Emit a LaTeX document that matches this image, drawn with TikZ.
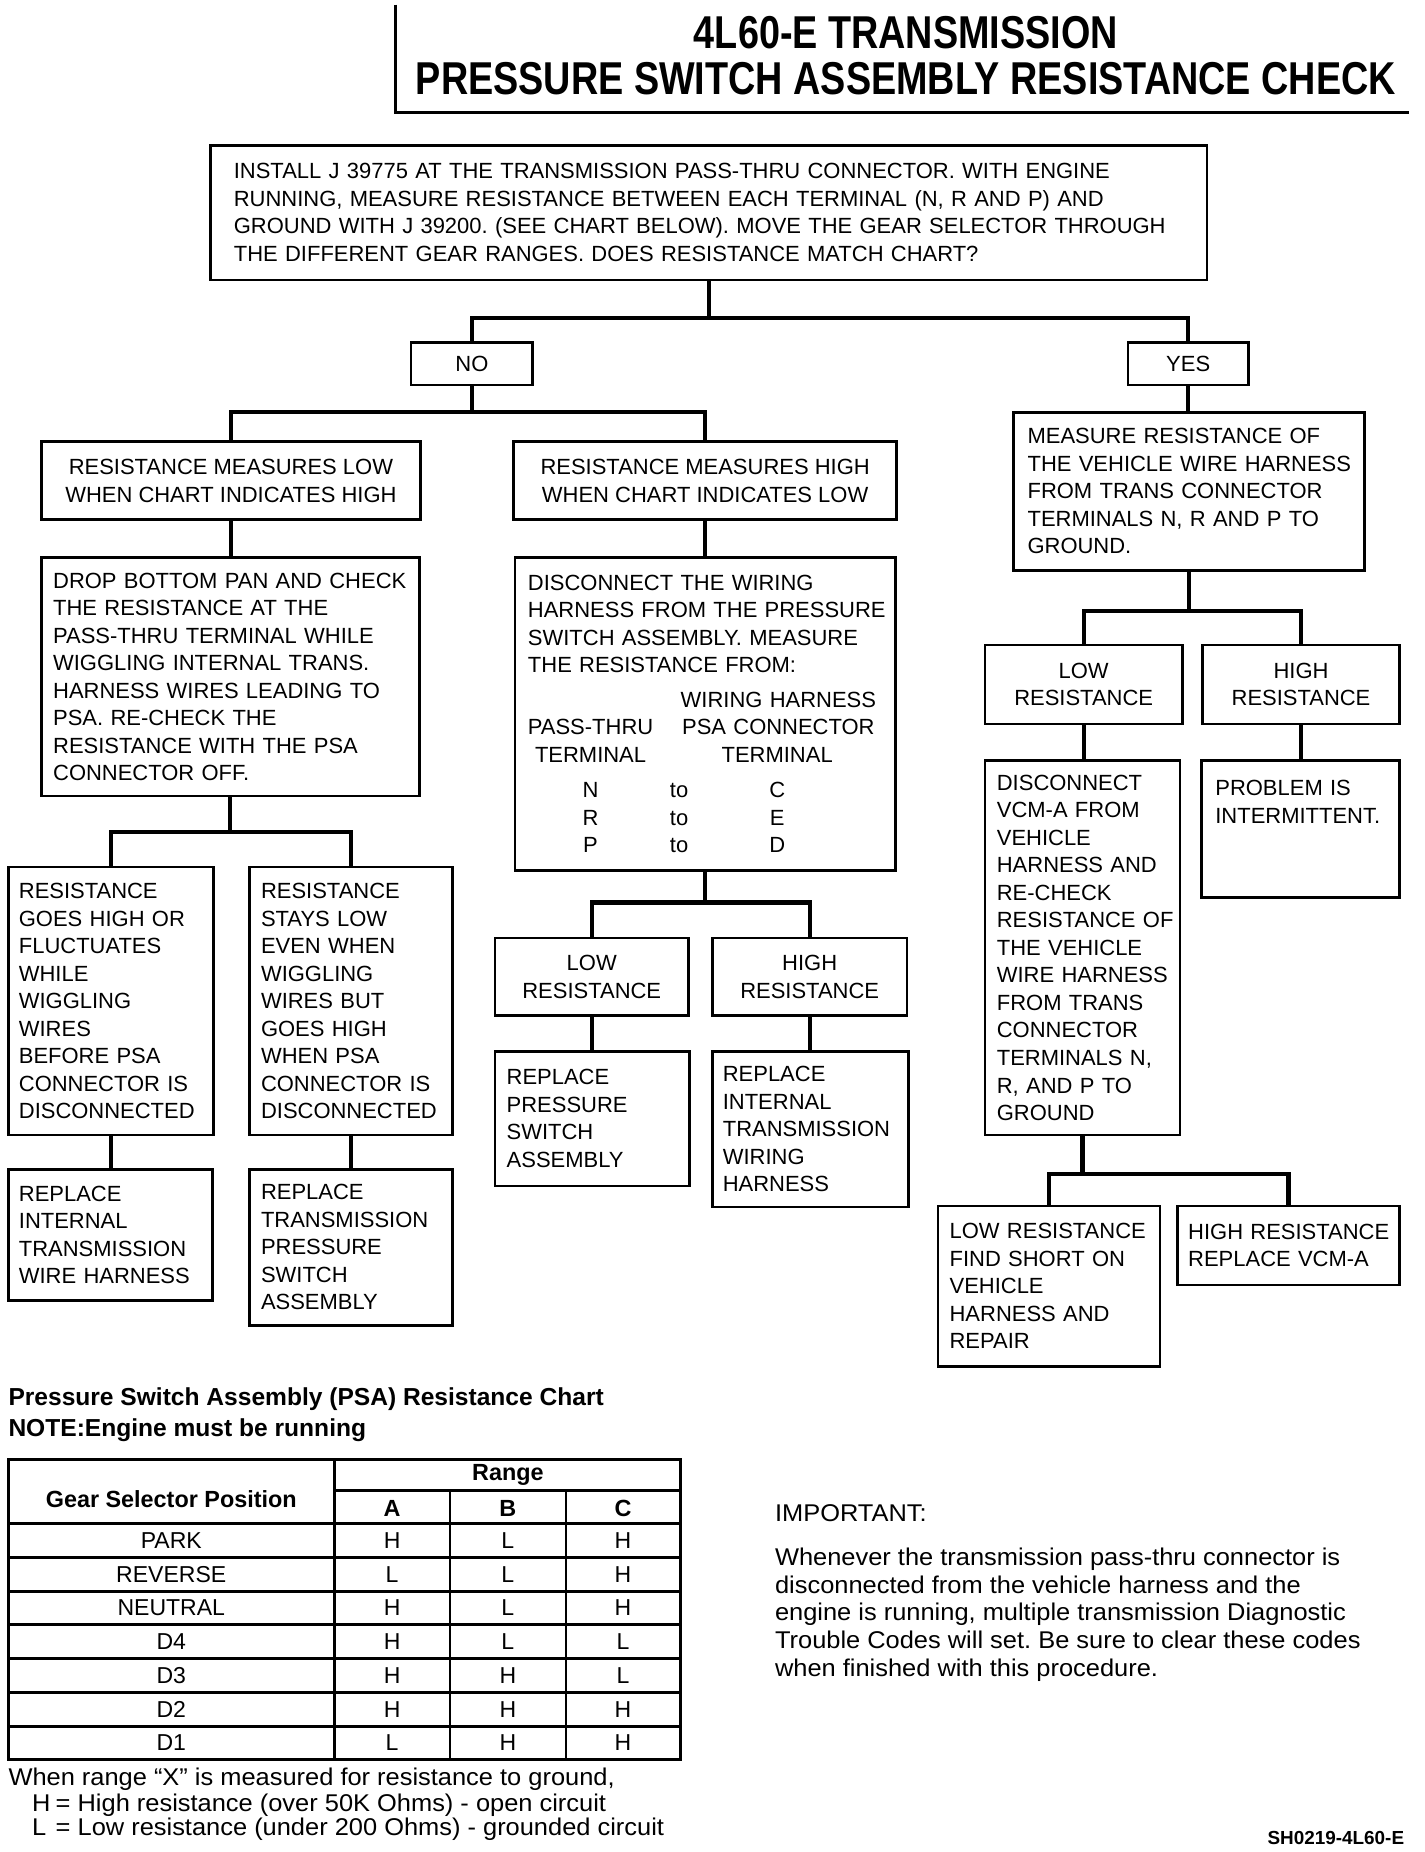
\documentclass[tikz,border=0pt]{standalone}
\usepackage{fontspec}
\setmainfont{Liberation Sans}
\newfontfamily\condfont[FakeStretch=0.82]{Liberation Sans}
\newfontfamily\widefont[FakeStretch=1.05]{Liberation Sans}
\frenchspacing

% place text centred at a given offset from the left text edge
\newcommand\colat[2]{\leavevmode\rlap{\hspace*{#1pt}\makebox[0pt]{#2}}}

\begin{document}
\begin{tikzpicture}[x=1pt,y=-1pt,font=\fontsize{18.6}{23.3}\selectfont,
  box/.style={draw,line width=2.2,inner ysep=0pt,align=left,
    execute at begin node={\rightskip=-40pt plus 1fil\relax}},
  cbox/.style={draw,line width=2.2,inner sep=0pt,align=center},
  conn/.style={line width=3.6},
  tbl/.style={line width=2.4},
  cell/.style={inner sep=0pt,font=\fontsize{19.5}{22}\selectfont},
  head/.style={inner sep=0pt,font=\bfseries\fontsize{19.8}{22}\selectfont},
  note/.style={inner sep=0pt,anchor=west,align=left,font=\widefont\fontsize{20.5}{23.5}\selectfont}]
  \path[use as bounding box,fill=white] (0,0) rectangle (1206,1568);

  % title
  \draw[line width=2.2] (335,4) |- (1193,95);
  \node[align=center,inner sep=0pt,font=\condfont\bfseries\fontsize{39}{39}\selectfont]
    (title) at (767,47) {4L60-E TRANSMISSION\\PRESSURE SWITCH ASSEMBLY RESISTANCE CHECK};

  % flow chart
  \node[box,text width=804,inner xsep=20,minimum height=114] (install) at (600,180)
    {INSTALL J 39775 AT THE TRANSMISSION PASS-THRU CONNECTOR. WITH ENGINE\\
     RUNNING, MEASURE RESISTANCE BETWEEN EACH TERMINAL (N, R AND P) AND\\
     GROUND WITH J 39200. (SEE CHART BELOW). MOVE THE GEAR SELECTOR THROUGH\\
     THE DIFFERENT GEAR RANGES. DOES RESISTANCE MATCH CHART?};
  \node[cbox,minimum width=103,minimum height=36] (no) at (399.5,308) {NO};
  \node[cbox,minimum width=102,minimum height=36] (yes) at (1006,308) {YES};

  \node[cbox,minimum width=321,minimum height=66] (lowa) at (195.5,407)
    {RESISTANCE MEASURES LOW\\WHEN CHART INDICATES HIGH};
  \node[cbox,minimum width=324,minimum height=66] (higha) at (597,407)
    {RESISTANCE MEASURES HIGH\\WHEN CHART INDICATES LOW};
  \node[box,text width=273,inner xsep=12,minimum height=134] (vha) at (1006.5,416)
    {MEASURE RESISTANCE OF\\THE VEHICLE WIRE HARNESS\\FROM TRANS CONNECTOR\\
     TERMINALS N, R AND P TO\\GROUND.};

  \node[box,text width=300,inner xsep=10,minimum height=202] (lowb) at (195,573)
    {DROP BOTTOM PAN AND CHECK\\THE RESISTANCE AT THE\\PASS-THRU TERMINAL WHILE\\
     WIGGLING INTERNAL TRANS.\\HARNESS WIRES LEADING TO\\PSA. RE-CHECK THE\\
     RESISTANCE WITH THE PSA\\CONNECTOR OFF.};
  \node[box,text width=300,inner xsep=11,minimum height=265] (highb) at (597,604.5)
    {DISCONNECT THE WIRING\\
     HARNESS FROM THE PRESSURE\\
     SWITCH ASSEMBLY. MEASURE\\
     THE RESISTANCE FROM:\\[5.7pt]
     \colat{212}{WIRING HARNESS}\\
     \colat{53}{PASS-THRU}\colat{212}{PSA CONNECTOR}\\
     \colat{53}{TERMINAL}\colat{211}{TERMINAL}\\[6.7pt]
     \colat{53}{N}\colat{128}{to}\colat{211}{C}\\
     \colat{53}{R}\colat{128}{to}\colat{211}{E}\\
     \colat{53}{P}\colat{128}{to}\colat{211}{D}};

  \node[cbox,minimum width=167,minimum height=67] (vlo) at (917.5,579.5) {LOW\\RESISTANCE};
  \node[cbox,minimum width=167,minimum height=67] (vhi) at (1101.5,579.5) {HIGH\\RESISTANCE};
  \node[box,text width=145,inner xsep=10,minimum height=317] (vlob) at (916.5,802.5)
    {DISCONNECT\\VCM-A FROM\\VEHICLE\\HARNESS AND\\RE-CHECK\\RESISTANCE OF\\
     THE VEHICLE\\WIRE HARNESS\\FROM TRANS\\CONNECTOR\\TERMINALS N,\\
     R, AND P TO\\GROUND};
  \node[box,text width=144,inner xsep=12,minimum height=116] (vhib) at (1101,702)
    {PROBLEM IS\\INTERMITTENT.\\\mbox{}\\\mbox{}};

  \node[box,text width=156,inner xsep=9,minimum height=227] (lowc1) at (94,847.5)
    {RESISTANCE\\GOES HIGH OR\\FLUCTUATES\\WHILE\\WIGGLING\\WIRES\\
     BEFORE PSA\\CONNECTOR IS\\DISCONNECTED};
  \node[box,text width=152,inner xsep=10,minimum height=227] (lowc2) at (297,847.5)
    {RESISTANCE\\STAYS LOW\\EVEN WHEN\\WIGGLING\\WIRES BUT\\GOES HIGH\\
     WHEN PSA\\CONNECTOR IS\\DISCONNECTED};
  \node[box,text width=155,inner xsep=9,minimum height=111] (lowd1) at (93.5,1045.5)
    {REPLACE\\INTERNAL\\TRANSMISSION\\WIRE HARNESS};
  \node[box,text width=152,inner xsep=10,minimum height=132] (lowd2) at (297,1056)
    {REPLACE\\TRANSMISSION\\PRESSURE\\SWITCH\\ASSEMBLY};

  \node[cbox,minimum width=164,minimum height=66] (highc1) at (501,827) {LOW\\RESISTANCE};
  \node[cbox,minimum width=165,minimum height=66] (highc2) at (685.5,827) {HIGH\\RESISTANCE};
  \node[box,text width=145,inner xsep=10,minimum height=114] (highd1) at (501.5,947)
    {REPLACE\\PRESSURE\\SWITCH\\ASSEMBLY};
  \node[box,text width=148,inner xsep=9,minimum height=132] (highd2) at (686,956)
    {REPLACE\\INTERNAL\\TRANSMISSION\\WIRING\\HARNESS};

  \node[box,text width=168,inner xsep=10,minimum height=136] (vloc1) at (888,1089)
    {LOW RESISTANCE\\FIND SHORT ON\\VEHICLE\\HARNESS AND\\REPAIR};
  \node[box,text width=170,inner xsep=9,minimum height=67] (vloc2) at (1091,1054.5)
    {HIGH RESISTANCE\\REPLACE VCM-A};

  % connectors
  \draw[conn] (install.south) -- ++(0,31) coordinate (j1);
  \draw[conn] (no.north) |- (j1) -| (yes.north);
  \draw[conn] (no.south) -- ++(0,22) coordinate (j2);
  \draw[conn] (lowa.north) |- (j2) -| (higha.north);
  \draw[conn] (yes.south) -- (yes.south |- vha.north);
  \draw[conn] (lowa.south) -- (lowa.south |- lowb.north);
  \draw[conn] (higha.south) -- (higha.south |- highb.north);
  \draw[conn] (lowb.south) -- ++(0,29) coordinate (j3);
  \draw[conn] (lowc1.north) |- (j3) -| (lowc2.north);
  \draw[conn] (lowc1.south) -- (lowc1.south |- lowd1.north);
  \draw[conn] (lowc2.south) -- (lowc2.south |- lowd2.north);
  \draw[conn] (highb.south) -- ++(0,26) coordinate (j4);
  \draw[conn] (highc1.north) |- (j4) -| (highc2.north);
  \draw[conn] (highc1.south) -- (highc1.south |- highd1.north);
  \draw[conn] (highc2.south) -- (highc2.south |- highd2.north);
  \draw[conn] (vha.south) -- ++(0,33) coordinate (j5);
  \draw[conn] (vlo.north) |- (j5) -| (vhi.north);
  \draw[conn] (vlo.south) -- (vlo.south |- vlob.north);
  \draw[conn] (vhi.south) -- (vhi.south |- vhib.north);
  \draw[conn] (vlob.south) -- ++(0,32) coordinate (j6);
  \draw[conn] (vloc1.north) |- (j6) -| (vloc2.north);

  % resistance chart
  \node[anchor=west,inner sep=0pt,font=\bfseries\fontsize{20.8}{24}\selectfont] (chart) at (7,1185)
    {Pressure Switch Assembly (PSA) Resistance Chart};
  \node[anchor=west,inner sep=0pt,font=\bfseries\fontsize{20.8}{24}\selectfont] (engnote) at (7,1211)
    {NOTE:Engine must be running};
  \draw[tbl] (7,1236) rectangle (576,1490);
  \draw[tbl] (283,1236) -- (283,1490);
  \draw[tbl] (283,1262) -- (576,1262);
  \draw[line width=1.8] (381,1262) -- (381,1490) (479,1262) -- (479,1490);
  \foreach \r in {0,...,6}
    \draw[tbl] (7,1290+\r*28.57) -- (576,1290+\r*28.57);
  \node[head] (gsp) at (145,1269) {Gear Selector Position};
  \node[head] (range) at (430,1249) {Range};
  \node[head] (colA) at (332,1277) {A};
  \node[head] (colB) at (430,1277) {B};
  \node[head] (colC) at (527.5,1277) {C};
  \foreach \g/\a/\b/\c [count=\r from 0] in
    {PARK/H/L/H,REVERSE/L/L/H,NEUTRAL/H/L/H,D4/H/L/L,D3/H/H/L,D2/H/H/H,D1/L/H/H}{
    \node[cell] (pos\r) at (145,1304.3+\r*28.57) {\g};
    \node[cell] (a\r) at (332,1304.3+\r*28.57) {\a};
    \node[cell] (b\r) at (430,1304.3+\r*28.57) {\b};
    \node[cell] (c\r) at (527.5,1304.3+\r*28.57) {\c};
  }
  \node[note] (when) at (7,1506) {When range “X” is measured for resistance to ground,};
  \node[note] (hkey) at (27,1528) {\makebox[20pt][l]{H}= High resistance (over 50K Ohms) - open circuit};
  \node[note] (lkey) at (27,1549) {\makebox[20pt][l]{L}= Low resistance (under 200 Ohms) - grounded circuit};

  % important note
  \node[note] (imp) at (656,1281) {IMPORTANT:};
  \node[note] (warn) at (656,1367)
    {Whenever the transmission pass-thru connector is\\
     disconnected from the vehicle harness and the\\
     engine is running, multiple transmission Diagnostic\\
     Trouble Codes will set. Be sure to clear these codes\\
     when finished with this procedure.};
  \node[anchor=east,inner sep=0pt,font=\bfseries\fontsize{16}{18}\selectfont] (figcode) at (1189,1556)
    {SH0219-4L60-E};
\end{tikzpicture}
\end{document}
